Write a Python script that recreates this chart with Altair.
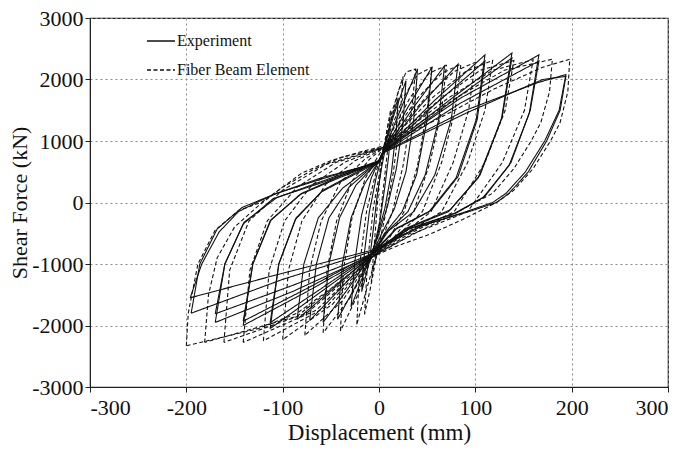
import altair as alt
import pandas as pd

# ---- x tick values / y tick values ----
x_ticks = [-300, -200, -100, 0, 100, 200, 300]
y_ticks = [-3000, -2000, -1000, 0, 1000, 2000, 3000]
series_names = ["Experiment", "Fiber Beam Element"]

# ---- Experiment cycles (displacement mm, shear force kN) ----
exp_01 = [(-10,-950),(-6,-450),(-2,100),(3,600),(7,900),(12,1100),(10,750),(6,250),(1,-300),(-4,-650),(-10,-950)]
exp_02 = [(-18,-1450),(-15,-800),(-10,-150),(-3,400),(4,820),(12,1300),(20,1700),(18,1200),(13,500),(6,-100),(-2,-550),(-8,-850),(-13,-1150),(-18,-1450)]
exp_03 = [(-29,-1700),(-25,-950),(-18,-200),(-8,400),(4,830),(16,1450),(28,1980),(25,1300),(18,550),(9,-50),(0,-500),(-8,-850),(-18,-1250),(-29,-1700)]
exp_04 = [(-43,-1900),(-38,-1000),(-29,-250),(-15,300),(0,680),(5,840),(22,1500),(40,2170),(36,1350),(28,500),(16,-100),(3,-500),(-8,-860),(-25,-1380),(-43,-1900)]
exp_05 = [(-58,-1950),(-52,-1000),(-41,-250),(-24,280),(0,680),(5,840),(30,1550),(55,2200),(50,1350),(39,450),(24,-150),(6,-500),(-8,-860),(-33,-1420),(-58,-1950)]
exp_06 = [(-72,-1920),(-65,-1000),(-52,-250),(-31,250),(0,680),(5,840),(36,1550),(68,2220),(62,1350),(48,450),(30,-150),(8,-480),(-8,-860),(-40,-1400),(-72,-1920)]
exp_07 = [(-85,-1900),(-78,-1000),(-63,-250),(-38,230),(0,680),(5,840),(43,1580),(82,2250),(75,1350),(58,450),(36,-150),(10,-460),(-8,-860),(-46,-1380),(-85,-1900)]
exp_08 = [(-113,-2050),(-104,-1000),(-86,-250),(-58,200),(-25,480),(0,680),(5,840),(57,1650),(110,2400),(101,1350),(80,400),(52,-150),(18,-430),(-8,-860),(-60,-1450),(-113,-2050)]
exp_09 = [(-113,-1955),(-104,-1000),(-87,-280),(-60,170),(-25,460),(0,660),(5,820),(57,1580),(110,2300),(102,1350),(82,420),(54,-130),(18,-420),(-8,-840),(-60,-1400),(-113,-1955)]
exp_10 = [(-141,-2000),(-131,-1000),(-112,-280),(-80,150),(-40,430),(0,680),(5,840),(72,1650),(138,2430),(127,1350),(103,400),(72,-150),(28,-430),(-8,-860),(-75,-1450),(-141,-2000)]
exp_11 = [(-141,-1930),(-131,-1000),(-113,-300),(-82,130),(-40,410),(0,660),(5,820),(72,1600),(138,2350),(128,1400),(105,450),(74,-120),(28,-420),(-8,-840),(-75,-1400),(-141,-1930)]
exp_12 = [(-170,-1950),(-160,-1000),(-140,-320),(-106,80),(-60,340),(0,680),(5,840),(85,1700),(166,2400),(156,1450),(135,600),(108,80),(78,-180),(30,-440),(-8,-860),(-90,-1450),(-170,-1950)]
exp_13 = [(-170,-1810),(-160,-1000),(-141,-350),(-110,60),(-60,320),(0,660),(5,820),(85,1620),(166,2300),(157,1500),(137,650),(110,100),(80,-170),(30,-430),(-8,-840),(-90,-1350),(-170,-1810)]
exp_14 = [(-195,-1800),(-186,-1000),(-168,-430),(-142,-80),(-128,10),(-106,150),(-60,380),(0,660),(5,820),(90,1500),(165,1950),(194,2080),(187,1500),(172,1000),(152,500),(132,150),(118,0),(92,-140),(45,-380),(-8,-800),(-100,-1250),(-195,-1800)]
exp_15 = [(-196,-1550),(-184,-1000),(-166,-480),(-146,-150),(-127,0),(-106,150),(-60,400),(0,650),(5,810),(90,1450),(140,1800),(170,2000),(194,2050),(188,1500),(174,1000),(155,500),(135,150),(122,0),(95,-140),(45,-370),(-8,-780),(-100,-1150),(-196,-1550)]

# ---- Fiber Beam Element cycles ----
fbe_01 = [(-8,-1300),(-4,-500),(0,300),(5,900),(12,1500),(10,1000),(5,300),(0,-400),(-4,-900),(-8,-1300)]
fbe_02 = [(-15,-1820),(-12,-1000),(-6,-100),(2,600),(10,1300),(25,2050),(22,1400),(15,500),(6,-250),(-3,-900),(-9,-1400),(-15,-1820)]
fbe_03 = [(-23,-1980),(-20,-1000),(-13,-150),(-3,500),(5,900),(20,1800),(28,2120),(38,2170),(34,1500),(25,600),(14,-150),(2,-650),(-10,-1250),(-23,-1980)]
fbe_04 = [(-40,-2090),(-37,-1100),(-28,-250),(-14,400),(0,780),(5,900),(25,1700),(40,2080),(55,2200),(50,1500),(40,600),(26,-150),(10,-600),(-8,-900),(-22,-1500),(-40,-2090)]
fbe_05 = [(-58,-2120),(-54,-1100),(-44,-300),(-28,350),(-10,700),(5,900),(32,1700),(52,2100),(70,2230),(65,1500),(53,650),(36,-150),(15,-580),(-8,-900),(-30,-1550),(-58,-2120)]
fbe_06 = [(-77,-2160),(-72,-1100),(-60,-300),(-40,330),(-15,700),(5,900),(40,1700),(65,2100),(85,2250),(79,1500),(65,650),(45,-150),(18,-560),(-8,-900),(-38,-1600),(-77,-2160)]
fbe_07 = [(-100,-2230),(-94,-1100),(-80,-300),(-55,300),(-25,680),(5,900),(48,1700),(78,2130),(100,2280),(93,1500),(77,650),(54,-150),(22,-540),(-8,-900),(-48,-1650),(-100,-2230)]
fbe_08 = [(-120,-2250),(-114,-1100),(-98,-300),(-70,280),(-35,660),(5,900),(55,1700),(90,2130),(118,2310),(110,1500),(92,650),(65,-150),(25,-530),(-8,-900),(-55,-1700),(-120,-2250)]
fbe_09 = [(-141,-2275),(-134,-1100),(-116,-300),(-85,250),(-45,650),(5,900),(65,1700),(105,2150),(140,2310),(131,1500),(110,650),(78,-150),(30,-520),(-8,-900),(-65,-1750),(-141,-2275)]
fbe_10 = [(-161,-2275),(-155,-1100),(-135,-300),(-100,200),(-55,620),(5,900),(72,1700),(118,2150),(160,2320),(151,1500),(128,650),(92,-150),(35,-510),(-8,-900),(-75,-1800),(-161,-2275)]
fbe_11 = [(-181,-2275),(-177,-1500),(-168,-900),(-150,-400),(-125,-50),(-100,250),(-70,520),(-40,730),(5,900),(80,1700),(130,2150),(180,2330),(177,1800),(168,1300),(158,1000),(140,550),(118,150),(100,0),(70,-250),(40,-480),(-8,-880),(-85,-1850),(-181,-2275)]
fbe_12 = [(-200,-2330),(-198,-1800),(-188,-1000),(-170,-450),(-145,-120),(-122,0),(-100,250),(-80,480),(-50,680),(-20,820),(5,920),(60,1350),(120,1850),(170,2200),(198,2330),(196,1800),(188,1300),(178,1000),(160,550),(140,200),(122,0),(87,-275),(53,-515),(20,-700),(-10,-900),(-50,-1400),(-85,-1800),(-125,-2050),(-165,-2200),(-200,-2330)]

exp_cycles = [exp_01, exp_02, exp_03, exp_04, exp_05, exp_06, exp_07, exp_08,
              exp_09, exp_10, exp_11, exp_12, exp_13, exp_14, exp_15]
fbe_cycles = [fbe_01, fbe_02, fbe_03, fbe_04, fbe_05, fbe_06, fbe_07, fbe_08,
              fbe_09, fbe_10, fbe_11, fbe_12]

rows = []
for name, cycles in ((series_names[1], fbe_cycles), (series_names[0], exp_cycles)):
    for ci, cyc in enumerate(cycles):
        for pi, (d, f) in enumerate(cyc):
            rows.append({"series": name, "loop": f"{name}-{ci}", "idx": pi, "disp": d, "force": f})
df = pd.DataFrame(rows)

FONT = "Liberation Serif"
H = 369

lines = alt.Chart(df).mark_line(strokeWidth=1.1, color="#111111").encode(
    x=alt.X("disp:Q", scale=alt.Scale(domain=[-300, 300], nice=False),
            axis=alt.Axis(values=x_ticks, title="Displacement (mm)",
                          labelExpr="toString(datum.value)", labelPadding=5,
                          titlePadding=3)),
    y=alt.Y("force:Q", scale=alt.Scale(domain=[-3000, 3000], nice=False),
            axis=alt.Axis(values=y_ticks, title="Shear Force (kN)",
                          labelExpr="toString(datum.value)", labelPadding=2,
                          titleX=-59, titleY=H / 2, titleAngle=270,
                          titleBaseline="bottom", titleAlign="center",
                          titleFontSize=22)),
    detail="loop:N",
    order="idx:Q",
    strokeDash=alt.StrokeDash(
        "series:N",
        scale=alt.Scale(domain=series_names, range=[[1, 0], [4, 2.5]]),
        legend=alt.Legend(orient="none", legendX=56, legendY=8, title=None,
                          symbolType="stroke", symbolSize=784, symbolStrokeWidth=1.3,
                          symbolStrokeColor="#111111",
                          labelFont=FONT, labelFontSize=16, labelColor="#111111",
                          rowPadding=6, padding=0, labelOffset=1),
    ),
)

chart = lines.properties(
    width=578, height=H,
    autosize=alt.AutoSizeParams(type="none"),
    padding={"left": 82, "top": 10, "right": 9, "bottom": 66},
).configure_view(
    stroke="#222222", strokeWidth=1.2
).configure_axis(
    labelFont=FONT, labelFontSize=22, labelColor="#111111",
    titleFont=FONT, titleFontSize=23, titleFontWeight="normal", titleColor="#111111",
    domainColor="#222222", tickColor="#222222", tickSize=5,
    grid=True, gridColor="#8a8a8a", gridDash=[2, 3], gridWidth=1,
)

chart.save("out.html", embed_options={"renderer": "svg", "actions": False})
